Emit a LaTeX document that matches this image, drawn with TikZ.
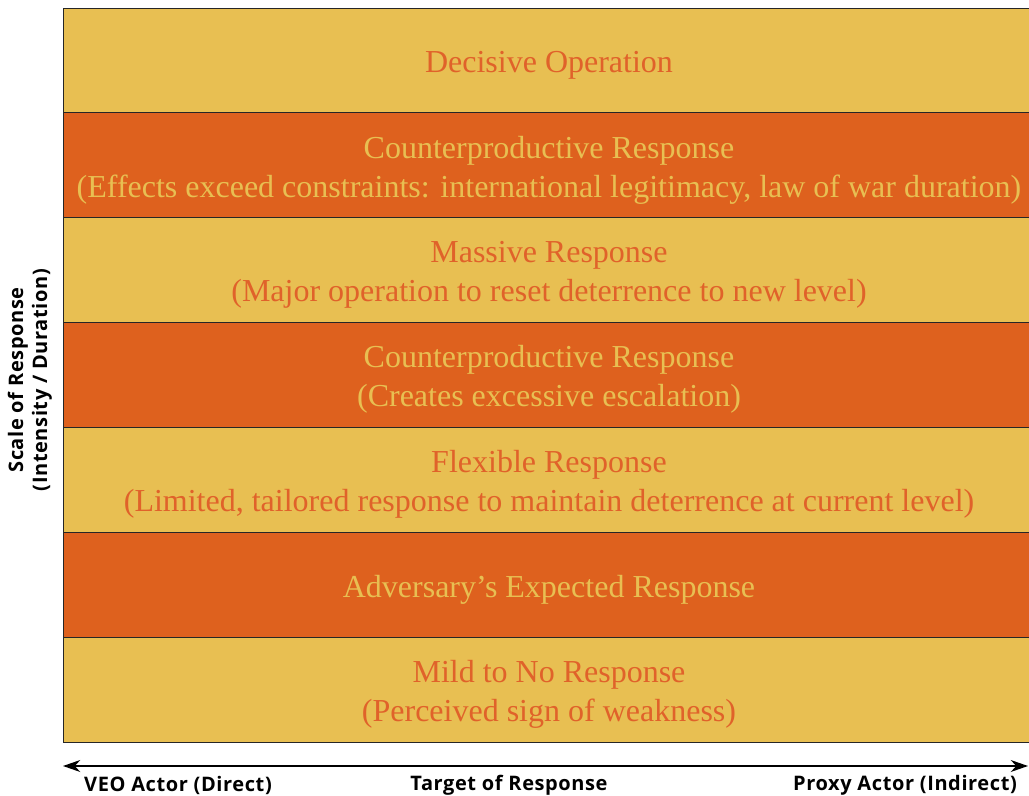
\documentclass[tikz,border=0pt]{standalone}
\usepackage{fontspec}
\setmainfont{Liberation Serif}
\setsansfont[LetterSpace=3]{Open Sans}
\usetikzlibrary{positioning,arrows.meta}

\definecolor{gold}{HTML}{E8BF52}
\definecolor{rust}{HTML}{DE611E}
\definecolor{rusttext}{HTML}{E0622A}

\begin{document}
\begin{tikzpicture}[x=0.75pt, y=-0.75pt,
    band/.style={draw=black!85, line width=0.6pt, inner sep=0pt, outer sep=0pt,
      minimum width=729pt, minimum height=78.65pt},
    lightband/.style={band, fill=gold},
    darkband/.style={band, fill=rust},
    bandtext/.style={align=center, yshift=-3.5pt, font=\fontsize{24}{29.3}\selectfont},
    lighttext/.style={bandtext, text=rusttext},
    darktext/.style={bandtext, text=gold},
    axislabel/.style={font=\sffamily\fontsize{15}{18}\selectfont\bfseries}]
    \useasboundingbox (0,0) rectangle (1029,796);

    % the seven response bands, top to bottom
    \node[lightband, anchor=north west] (decisive) at (63,8) {};
    \node[darkband, below=0pt of decisive] (counterA) {};
    \node[lightband, below=0pt of counterA] (massive) {};
    \node[darkband, below=0pt of massive] (counterB) {};
    \node[lightband, below=0pt of counterB] (flexible) {};
    \node[darkband, below=0pt of flexible] (expected) {};
    \node[lightband, below=0pt of expected] (mild) {};

    \node[lighttext] (decisivetxt) at (decisive) {Decisive Operation};
    \node[darktext] (counterAtxt) at (counterA) {Counterproductive Response\\(Effects exceed constraints: international legitimacy, law of war duration)};
    \node[lighttext] (massivetxt) at (massive) {Massive Response\\(Major operation to reset deterrence to new level)};
    \node[darktext] (counterBtxt) at (counterB) {Counterproductive Response\\(Creates excessive escalation)};
    \node[lighttext] (flexibletxt) at (flexible) {Flexible Response\\(Limited, tailored response to maintain deterrence at current level)};
    \node[darktext] (expectedtxt) at (expected) {Adversary's Expected Response};
    \node[lighttext] (mildtxt) at (mild) {Mild to No Response\\(Perceived sign of weakness)};

    % scale axis on the left
    \node[axislabel, rotate=90, align=center] (scale) at (30,380) {Scale of Response\\(Intensity / Duration)};

    % target axis along the bottom
    \coordinate (axl) at (63,766);
    \coordinate (axr) at (1028,766);
    \draw[{Stealth[length=13pt,width=9pt]}-{Stealth[length=13pt,width=9pt]}, line width=1.1pt] (axl) -- (axr);
    \node[axislabel] (veo) at (178,785) {VEO Actor (Direct)};
    \node[axislabel] (target) at (509,785) {Target of Response};
    \node[axislabel] (proxy) at (905,785) {Proxy Actor (Indirect)};
\end{tikzpicture}
\end{document}
